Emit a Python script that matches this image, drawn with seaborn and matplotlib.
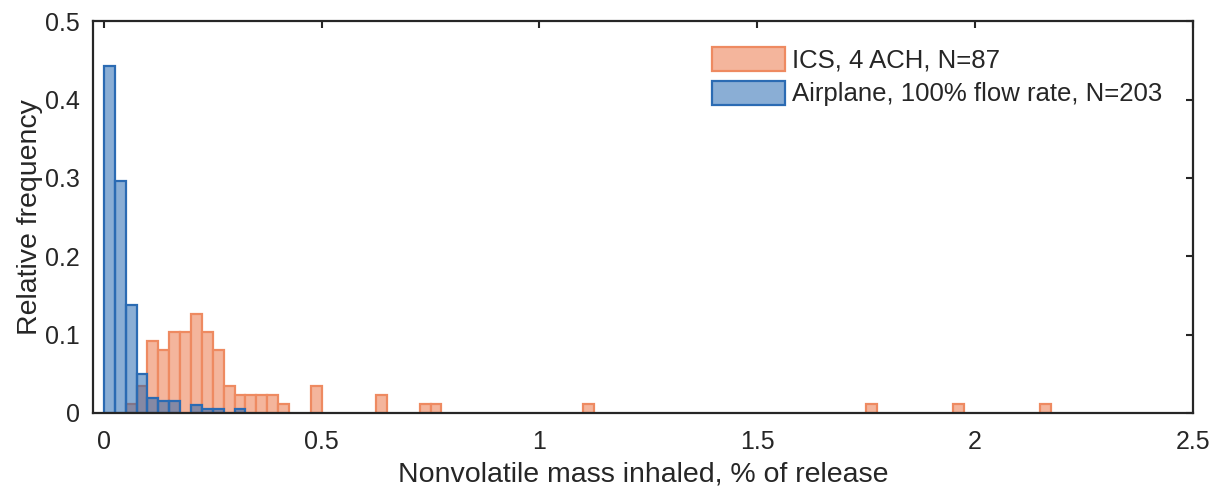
import numpy as np
import pandas as pd
import matplotlib
matplotlib.use("Agg")
import matplotlib.pyplot as plt
import seaborn as sns
from matplotlib.patches import Patch

# ---- data (bin left edges, counts per bin of width 0.025) ----
bin_width = 0.025
ics_label = "ICS, 4 ACH, N=87"
ics_n = 87
ics_left = [0.05, 0.075, 0.1, 0.125, 0.15, 0.175, 0.2, 0.225, 0.25, 0.275,
            0.3, 0.325, 0.35, 0.375, 0.4, 0.475, 0.625, 0.725, 0.75, 1.1,
            1.75, 1.95, 2.15]
ics_counts = [1, 3, 8, 7, 9, 9, 11, 9, 7, 3,
              2, 2, 2, 2, 1, 3, 2, 1, 1, 1,
              1, 1, 1]

air_label = "Airplane, 100% flow rate, N=203"
air_n = 203
air_left = [0.0, 0.025, 0.05, 0.075, 0.1, 0.125, 0.15, 0.2, 0.225, 0.25, 0.3]
air_counts = [90, 60, 28, 10, 4, 3, 3, 2, 1, 1, 1]

xticks = [0, 0.5, 1, 1.5, 2, 2.5]
xtick_labels = ["0", "0.5", "1", "1.5", "2", "2.5"]
yticks = [0, 0.1, 0.2, 0.3, 0.4, 0.5]
ytick_labels = ["0", "0.1", "0.2", "0.3", "0.4", "0.5"]

# ---- style ----
sns.set_theme(style="white")
plt.rcParams["font.family"] = ["Liberation Sans", "DejaVu Sans"]
txt = "#262626"

ics_face = (0.957, 0.71, 0.612, 1.0)
ics_edge = (0.933, 0.54, 0.38, 1.0)
air_face = (23/255, 95/255, 173/255, 0.5)
air_edge = (0.17, 0.42, 0.70, 1.0)

fig = plt.figure(figsize=(12.11, 4.92), dpi=100)
ax = fig.add_axes([0.0768, 0.1606, 0.985 - 0.0768, 0.957 - 0.1606])

ics_df = pd.DataFrame({"x": np.array(ics_left) + bin_width / 2,
                       "w": np.array(ics_counts) / ics_n})
air_df = pd.DataFrame({"x": np.array(air_left) + bin_width / 2,
                       "w": np.array(air_counts) / air_n})

sns.histplot(data=ics_df, x="x", weights="w", binwidth=bin_width, binrange=(0, 2.2),
             ax=ax, facecolor=ics_face, edgecolor=ics_edge, linewidth=1.6, zorder=2)
sns.histplot(data=air_df, x="x", weights="w", binwidth=bin_width, binrange=(0, 2.2),
             ax=ax, facecolor=air_face, edgecolor=air_edge, linewidth=1.6, zorder=3)

for p in list(ax.patches):
    if p.get_height() == 0:
        p.remove()

ax.set_xlim(-0.025, 2.5)
ax.set_ylim(0, 0.5)
ax.set_xticks(xticks)
ax.set_xticklabels(xtick_labels)
ax.set_yticks(yticks)
ax.set_yticklabels(ytick_labels)
ax.tick_params(direction="in", length=5, width=1.5, colors=txt,
               labelsize=18, top=True, right=True)
ax.tick_params(axis="x", pad=12)
ax.tick_params(axis="y", pad=9.5)
for s in ax.spines.values():
    s.set_visible(True)
    s.set_color(txt)
    s.set_linewidth(1.6)
    s.set_zorder(5)

ax.set_xlabel("Nonvolatile mass inhaled, % of release", fontsize=20.5, color=txt, labelpad=6)
ax.set_ylabel("Relative frequency", fontsize=20.5, color=txt, labelpad=1.5)

handles = [Patch(facecolor=ics_face, edgecolor=ics_edge, linewidth=1.6, label=ics_label),
           Patch(facecolor=air_face, edgecolor=air_edge, linewidth=1.6, label=air_label)]
leg = ax.legend(handles=handles, loc="upper right", bbox_to_anchor=(0.996, 1.0),
                frameon=False, fontsize=18.5,
                handlelength=2.84, handleheight=1.05, handletextpad=0.3,
                labelspacing=0.32, borderaxespad=0.6)
for t in leg.get_texts():
    t.set_color(txt)

fig.savefig("out.png", dpi=100)
